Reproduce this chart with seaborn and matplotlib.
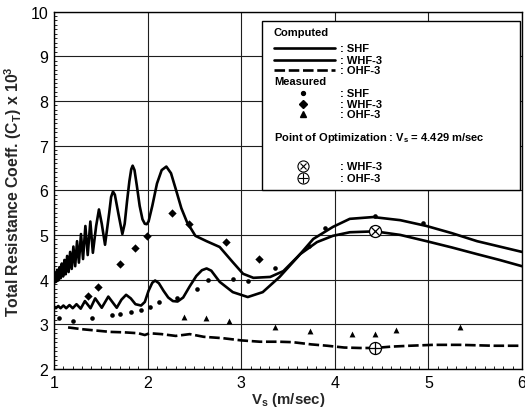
import matplotlib
matplotlib.use("Agg")
import matplotlib.pyplot as plt
import seaborn as sns
from matplotlib.patches import Rectangle
from matplotlib.ticker import MultipleLocator

# ---- Computed total resistance coefficient, C_T x 10^3 ----
shf_vs = [1.000, 1.020, 1.045, 1.070, 1.100, 1.130, 1.165, 1.200, 1.240, 1.285,
          1.330, 1.390, 1.440, 1.510, 1.580, 1.670, 1.720, 1.770, 1.820, 1.870,
          1.930, 1.970, 2.010, 2.050, 2.080, 2.120, 2.170, 2.220, 2.270, 2.320,
          2.380, 2.450, 2.520, 2.580, 2.630, 2.680, 2.770, 2.910, 3.070, 3.230,
          3.410, 3.600, 3.770, 3.980, 4.160, 4.410, 4.700, 4.980, 5.250, 5.520,
          5.760, 6.000]
shf_ct = [3.40, 3.36, 3.41, 3.36, 3.42, 3.36, 3.43, 3.36, 3.45, 3.35,
          3.52, 3.36, 3.58, 3.37, 3.62, 3.37, 3.55, 3.66, 3.58, 3.45,
          3.42, 3.50, 3.75, 3.93, 3.98, 3.92, 3.75, 3.60, 3.52, 3.51,
          3.60, 3.85, 4.08, 4.21, 4.25, 4.20, 3.95, 3.72, 3.61, 3.72,
          4.06, 4.50, 4.91, 5.18, 5.36, 5.40, 5.33, 5.20, 5.04, 4.86,
          4.74, 4.62]

whf_vs = [1.000, 1.012, 1.023, 1.034, 1.046, 1.058, 1.070, 1.083, 1.097, 1.111,
          1.125, 1.140, 1.156, 1.172, 1.189, 1.207, 1.226, 1.246, 1.266, 1.288,
          1.310, 1.335, 1.360, 1.388, 1.415, 1.450, 1.480, 1.510, 1.545, 1.590,
          1.610, 1.630, 1.650, 1.690, 1.730, 1.755, 1.780, 1.805, 1.825, 1.840,
          1.860, 1.885, 1.915, 1.945, 1.970, 1.990, 2.010, 2.050, 2.100, 2.150,
          2.200, 2.250, 2.310, 2.360, 2.420, 2.510, 2.630, 2.770, 2.910, 3.020,
          3.130, 3.310, 3.450, 3.630, 3.810, 3.980, 4.160, 4.429, 4.700, 4.980,
          5.250, 5.520, 5.760, 6.000]
whf_ct = [3.90, 4.15, 3.95, 4.22, 3.98, 4.28, 4.03, 4.36, 4.07, 4.44,
          4.12, 4.53, 4.17, 4.62, 4.24, 4.74, 4.30, 4.86, 4.38, 5.02,
          4.46, 5.20, 4.55, 5.30, 4.60, 5.20, 5.57, 5.25, 4.78, 5.50,
          5.85, 5.97, 5.90, 5.45, 5.02, 5.25, 5.75, 6.20, 6.47, 6.55,
          6.45, 6.10, 5.65, 5.35, 5.25, 5.24, 5.30, 5.65, 6.15, 6.45,
          6.53, 6.38, 5.96, 5.60, 5.29, 4.98, 4.86, 4.73, 4.39, 4.13,
          4.04, 4.06, 4.19, 4.57, 4.84, 4.98, 5.06, 5.08, 5.00, 4.86,
          4.72, 4.57, 4.44, 4.30]

ohf_vs = [1.15, 1.30, 1.45, 1.60, 1.75, 1.90, 1.97, 2.02, 2.15, 2.30,
          2.45, 2.60, 2.80, 3.00, 3.20, 3.40, 3.55, 3.75, 3.92, 4.10,
          4.27, 4.429, 4.60, 4.80, 5.05, 5.34, 5.70, 6.00]
ohf_ct = [2.93, 2.89, 2.86, 2.83, 2.82, 2.80, 2.76, 2.80, 2.78, 2.74,
          2.78, 2.72, 2.69, 2.64, 2.61, 2.61, 2.60, 2.55, 2.52, 2.48,
          2.47, 2.47, 2.50, 2.52, 2.54, 2.54, 2.52, 2.52]

# ---- Measured ----
shf_meas_vs = [1.05, 1.20, 1.41, 1.62, 1.70, 1.82, 1.93, 2.03, 2.12, 2.31,
               2.53, 2.65, 2.91, 3.07, 3.36, 3.72, 3.90, 4.43, 4.94]
shf_meas_ct = [3.13, 3.08, 3.15, 3.21, 3.24, 3.28, 3.33, 3.38, 3.51, 3.58,
               3.79, 3.99, 4.01, 3.96, 4.26, 4.75, 5.16, 5.42, 5.27]

whf_meas_vs = [1.36, 1.47, 1.71, 1.87, 1.99, 2.26, 2.44, 2.84, 3.19]
whf_meas_ct = [3.63, 3.83, 4.35, 4.71, 4.98, 5.49, 5.24, 4.84, 4.46]

ohf_meas_vs = [2.39, 2.62, 2.87, 3.36, 3.73, 4.18, 4.43, 4.65, 5.34]
ohf_meas_ct = [3.16, 3.14, 3.07, 2.94, 2.85, 2.78, 2.78, 2.87, 2.94]

# ---- Point of optimization ----
opt_vs = 4.429
opt_whf_ct = 5.08
opt_ohf_ct = 2.47

sns.set_style("white")
plt.rcParams["font.family"] = ["Liberation Sans", "DejaVu Sans"]
plt.rcParams["mathtext.fontset"] = "custom"
plt.rcParams["mathtext.rm"] = "Liberation Sans"
plt.rcParams["mathtext.bf"] = "Liberation Sans:bold"

fig = plt.figure(figsize=(5.25, 4.10), dpi=100)
ax = fig.add_axes([0.1029, 0.0976, 0.8914, 0.8719])

ink = "black"
lw_solid = 1.9
dash = (0, (4.0, 1.4))

sns.lineplot(x=shf_vs, y=shf_ct, ax=ax, sort=False, estimator=None,
             color=ink, linewidth=lw_solid, zorder=3)
sns.lineplot(x=whf_vs, y=whf_ct, ax=ax, sort=False, estimator=None,
             color=ink, linewidth=lw_solid, zorder=3)
sns.lineplot(x=ohf_vs, y=ohf_ct, ax=ax, sort=False, estimator=None,
             color=ink, linewidth=lw_solid, zorder=3)
ax.lines[-1].set_linestyle(dash)

sns.scatterplot(x=shf_meas_vs, y=shf_meas_ct, ax=ax, marker="o", s=11,
                color=ink, edgecolor=ink, linewidth=0, zorder=4)
sns.scatterplot(x=whf_meas_vs, y=whf_meas_ct, ax=ax, marker="D", s=18,
                color=ink, edgecolor=ink, linewidth=0, zorder=4)
sns.scatterplot(x=ohf_meas_vs, y=ohf_meas_ct, ax=ax, marker="^", s=18,
                color=ink, edgecolor=ink, linewidth=0, zorder=4)

# optimization markers: circled cross / circled plus
for ct, inner in ((opt_whf_ct, "x"), (opt_ohf_ct, "+")):
    sns.scatterplot(x=[opt_vs], y=[ct], ax=ax, marker="o", s=75,
                    facecolor="white", edgecolor=ink, linewidth=0.9, zorder=5)
    sns.scatterplot(x=[opt_vs], y=[ct], ax=ax, marker=inner,
                    s=45 if inner == "x" else 75,
                    color=ink, linewidth=0.9, zorder=6)

ax.set_xlim(1, 6)
ax.set_ylim(2, 10)
ax.xaxis.set_major_locator(MultipleLocator(1))
ax.xaxis.set_minor_locator(MultipleLocator(0.1))
ax.yaxis.set_major_locator(MultipleLocator(1))
ax.yaxis.set_minor_locator(MultipleLocator(0.1))
ax.grid(True, which="major", color="#1e1e1e", linewidth=0.8)
ax.set_axisbelow(True)
ax.tick_params(which="major", direction="in", length=0, labelsize=11.5,
               pad=4, colors=ink)
ax.tick_params(which="minor", direction="in", length=2.5, width=0.6,
               bottom=True, left=True, colors=ink)
for sp in ax.spines.values():
    sp.set_color(ink)
    sp.set_linewidth(1.0)

ax.set_xlabel(r"V$_\mathbf{s}$ (m/sec)", fontsize=10.8, fontweight="bold",
              labelpad=0)
ax.set_ylabel(r"Total Resistance Coeff. (C$_\mathbf{T}$) x 10$^\mathbf{3}$",
              fontsize=11.3, fontweight="bold", labelpad=5)

# ---- legend block (axes fractions) ----
T = ax.transAxes
ax.add_patch(Rectangle((0.4444, 0.500), 0.5513, 0.4721, transform=T,
                       facecolor="white", edgecolor=ink, linewidth=1.0,
                       zorder=10))
tx0, lx1, cx, mx = 0.470, 0.600, 0.611, 0.532
fs = 8.0
txt = dict(transform=T, fontsize=fs, fontweight="bold", va="center",
           ha="left", zorder=11, color=ink)

ax.text(tx0, 0.9413, "Computed", **txt)
for yy, lab, ls in ((0.8966, ": SHF", "-"), (0.8631, ": WHF-3", "-"),
                    (0.8352, ": OHF-3", dash)):
    ax.plot([tx0, lx1], [yy, yy], transform=T, color=ink, lw=lw_solid,
            linestyle=ls, zorder=11)
    ax.text(cx, yy, lab, **txt)

ax.text(tx0, 0.8045, "Measured", **txt)
for yy, lab, mk, ms in ((0.7709, ": SHF", "o", 2.8), (0.7402, ": WHF-3", "D", 3.6),
                        (0.7123, ": OHF-3", "^", 3.8)):
    ax.plot([mx], [yy], transform=T, marker=mk, ms=ms, color=ink, lw=0,
            zorder=11)
    ax.text(cx, yy, lab, **txt)

ax.text(tx0, 0.6480,
        r"Point of Optimization : V$_\mathbf{s}$ = 4.429 m/sec", **txt)
for yy, lab, inner, ms in ((0.5670, ": WHF-3", "x", 5.0), (0.5335, ": OHF-3", "+", 7.5)):
    ax.plot([mx], [yy], transform=T, marker="o", ms=8, mfc="white",
            mec=ink, mew=0.8, lw=0, zorder=11)
    ax.plot([mx], [yy], transform=T, marker=inner, ms=ms, color=ink,
            mew=0.8, lw=0, zorder=12)
    ax.text(cx, yy, lab, **txt)

fig.savefig("out.png", dpi=100)
